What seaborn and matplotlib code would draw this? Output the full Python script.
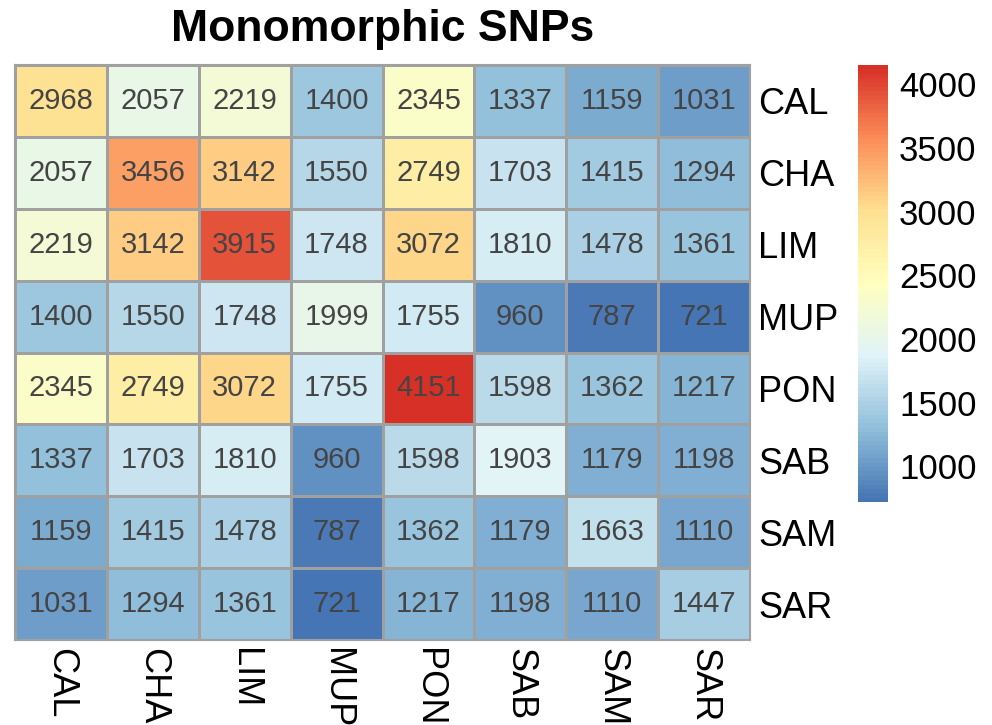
import numpy as np
import pandas as pd
import seaborn as sns
from matplotlib import pyplot as plt
from matplotlib.colors import LinearSegmentedColormap

pops = ['CAL', 'CHA', 'LIM', 'MUP', 'PON', 'SAB', 'SAM', 'SAR']
counts = [
    [2968, 2057, 2219, 1400, 2345, 1337, 1159, 1031],
    [2057, 3456, 3142, 1550, 2749, 1703, 1415, 1294],
    [2219, 3142, 3915, 1748, 3072, 1810, 1478, 1361],
    [1400, 1550, 1748, 1999, 1755, 960, 787, 721],
    [2345, 2749, 3072, 1755, 4151, 1598, 1362, 1217],
    [1337, 1703, 1810, 960, 1598, 1903, 1179, 1198],
    [1159, 1415, 1478, 787, 1362, 1179, 1663, 1110],
    [1031, 1294, 1361, 721, 1217, 1198, 1110, 1447],
]
cbar_ticks = [1000, 1500, 2000, 2500, 3000, 3500, 4000]

# pheatmap default palette: rev(brewer.pal(7, "RdYlBu"))
rdylbu7 = ['#4575B4', '#91BFDB', '#E0F3F8', '#FFFFBF', '#FEE090', '#FC8D59', '#D73027']
cmap = LinearSegmentedColormap.from_list('pheat', rdylbu7, N=100)

df = pd.DataFrame(counts, index=pops, columns=pops)

sns.set_style('white')
plt.rcParams['font.family'] = ['Liberation Sans', 'DejaVu Sans']

fig = plt.figure(figsize=(9.92, 7.25), dpi=100)
ax = fig.add_axes([15 / 992, 1 - 640 / 725, 735 / 992, 575 / 725])
cax = fig.add_axes([858 / 992, 1 - 502 / 725, 30 / 992, 437 / 725])

sns.heatmap(df, ax=ax, cbar_ax=cax, cmap=cmap, annot=True, fmt='d',
            annot_kws={'fontsize': 21, 'color': '#444444'},
            linewidths=1.0, linecolor='#a0a0a0',
            cbar_kws={'ticks': cbar_ticks})

ax.yaxis.tick_right()
ax.set_yticklabels(pops, rotation=0, fontsize=26, color='black')
ax.set_xticklabels(pops, rotation=270, fontsize=26, color='black', va='top')
ax.tick_params(length=0, pad=6)
ax.set_xlabel('')
ax.set_ylabel('')
for s in ax.spines.values():
    s.set_visible(True)
    s.set_color('#a0a0a0')
    s.set_linewidth(1.5)

cbar = ax.collections[0].colorbar
cbar.outline.set_visible(False)
cax.tick_params(length=0, labelsize=25, pad=8, labelcolor='black')

fig.text(383 / 992, 1 - 30 / 725, 'Monomorphic SNPs', ha='center', va='center',
         fontsize=32, fontweight='bold', color='black')

fig.savefig('out.png', dpi=100)
